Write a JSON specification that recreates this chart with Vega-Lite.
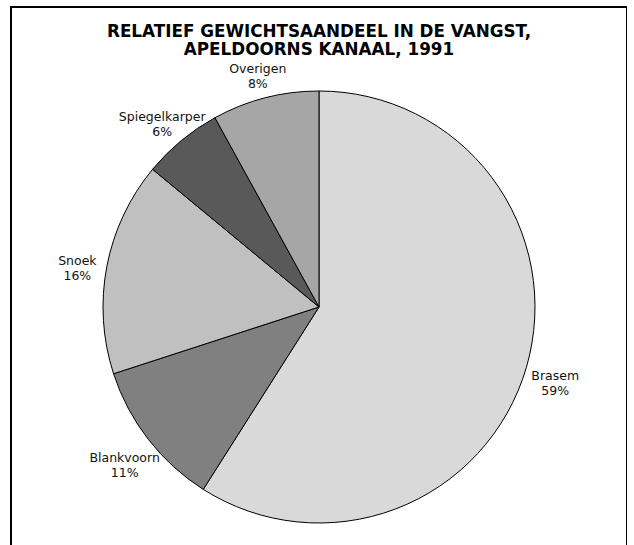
{
  "$schema": "https://vega.github.io/schema/vega-lite/v6.json",
  "autosize": {"type": "none"},
  "padding": {"left": 11, "top": 7, "right": 0, "bottom": 0},
  "width": 616,
  "height": 600,
  "background": "white",
  "view": {"stroke": "black", "strokeWidth": 2, "fill": "white"},
  "config": {
    "view": {"stroke": "black", "strokeWidth": 2},
    "font": "DejaVu Sans"
  },
  "title": {
    "text": ["RELATIEF GEWICHTSAANDEEL IN DE VANGST,", "APELDOORNS KANAAL, 1991"],
    "font": "DejaVu Sans",
    "fontSize": 16.8,
    "fontWeight": "bold",
    "color": "black",
    "anchor": "middle",
    "offset": -52,
    "lineHeight": 18
  },
  "data": {
    "values": [
      {"soort": "Brasem", "pct": 59, "volgorde": 1},
      {"soort": "Blankvoorn", "pct": 11, "volgorde": 2},
      {"soort": "Snoek", "pct": 16, "volgorde": 3},
      {"soort": "Spiegelkarper", "pct": 6, "volgorde": 4},
      {"soort": "Overigen", "pct": 8, "volgorde": 5}
    ]
  },
  "transform": [
    {"calculate": "datum.soort + '\\n' + datum.pct + '%'", "as": "label"}
  ],
  "encoding": {
    "theta": {"field": "pct", "type": "quantitative", "stack": true},
    "order": {"field": "volgorde", "type": "quantitative"}
  },
  "layer": [
    {
      "mark": {"type": "arc", "outerRadius": 216, "stroke": "black", "strokeWidth": 1},
      "encoding": {
        "color": {
          "field": "soort",
          "type": "nominal",
          "scale": {
            "domain": ["Brasem", "Blankvoorn", "Snoek", "Spiegelkarper", "Overigen"],
            "range": ["#d9d9d9", "#808080", "#c0c0c0", "#595959", "#a6a6a6"]
          },
          "legend": null
        }
      }
    },
    {
      "mark": {"type": "text", "radius": 246, "fontSize": 12.5, "lineBreak": "\n", "lineHeight": 15, "color": "#111111", "align": "center", "baseline": "middle"},
      "encoding": {
        "text": {"field": "label", "type": "nominal"}
      }
    }
  ]
}
